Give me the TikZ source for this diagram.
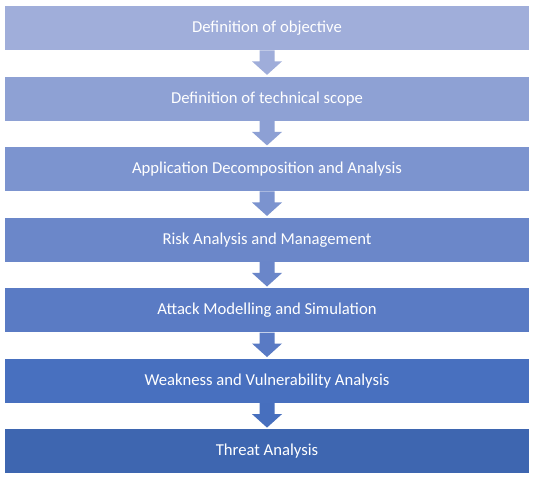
\documentclass[tikz,border=0pt]{standalone}
\usepackage{fontspec}
\setmainfont{Carlito}
\definecolor{stepA}{HTML}{A0AEDA}
\definecolor{stepB}{HTML}{8EA1D4}
\definecolor{stepC}{HTML}{7C94CF}
\definecolor{stepD}{HTML}{6B87C9}
\definecolor{stepE}{HTML}{5A7BC4}
\definecolor{stepF}{HTML}{4870BF}
\definecolor{stepG}{HTML}{3E66B0}
\newlength{\unitpx}
\setlength{\unitpx}{0.75pt}
\tikzset{
  stagebox/.style={fill=#1, draw=none, minimum width=524\unitpx, minimum height=44\unitpx,
    inner sep=0pt, text=white, font=\fontsize{12.5pt}{15pt}\selectfont, anchor=north},
}
% block arrow hanging below a stage box, pointing at the next one
\newcommand{\flowarrow}[3]{%
  \fill[#3] ([xshift=-7.5\unitpx]#1.south) -- ([xshift=7.5\unitpx]#1.south)
    -- ([xshift=7.5\unitpx,yshift=-11\unitpx]#1.south) -- ([xshift=15\unitpx,yshift=-11\unitpx]#1.south)
    -- ([yshift=1.5\unitpx]#2.north) -- ([xshift=-15\unitpx,yshift=-11\unitpx]#1.south)
    -- ([xshift=-7.5\unitpx,yshift=-11\unitpx]#1.south) -- cycle;}
\begin{document}
\begin{tikzpicture}[x=0.75pt, y=-0.75pt]
\useasboundingbox (0,0) rectangle (535,478);
\fill[white] (0,0) rectangle (535,478);
\node[stagebox=stepA] (s1) at (267,5.8) {Definition of objective};
\node[stagebox=stepB] (s2) at (267,76.35) {Definition of technical scope};
\node[stagebox=stepC] (s3) at (267,146.9) {Application Decomposition and Analysis};
\node[stagebox=stepD] (s4) at (267,217.45) {Risk Analysis and Management};
\node[stagebox=stepE] (s5) at (267,288.0) {Attack Modelling and Simulation};
\node[stagebox=stepF] (s6) at (267,358.55) {Weakness and Vulnerability Analysis};
\node[stagebox=stepG] (s7) at (267,429.1) {Threat Analysis};
\flowarrow{s1}{s2}{stepA!95!stepB}
\flowarrow{s2}{s3}{stepB!95!stepC}
\flowarrow{s3}{s4}{stepC!95!stepD}
\flowarrow{s4}{s5}{stepD!95!stepE}
\flowarrow{s5}{s6}{stepE!95!stepF}
\flowarrow{s6}{s7}{stepF!95!stepG}
\end{tikzpicture}
\end{document}
